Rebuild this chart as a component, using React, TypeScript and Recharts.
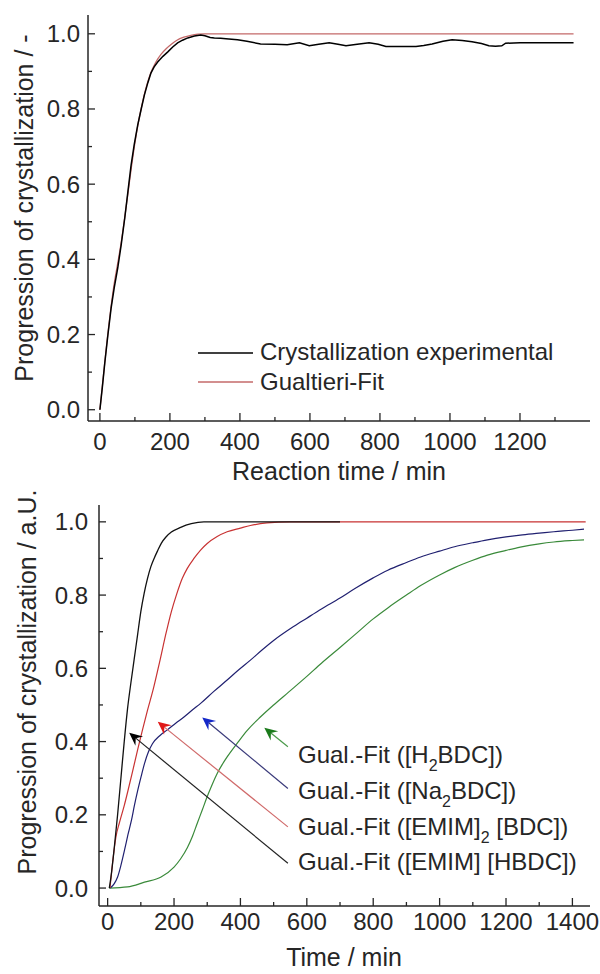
import React from "react";
import { Legend, Line, LineChart, ReferenceLine, XAxis, YAxis } from "recharts";

const FONT = "'Liberation Sans', Arial, sans-serif";
const INK = "#262626";

// tick positions
const topXMajor = [0, 200, 400, 600, 800, 1000, 1200];
const topXMinor = [100, 300, 500, 700, 900, 1100, 1300];
const bottomXMajor = [0, 200, 400, 600, 800, 1000, 1200, 1400];
const bottomXMinor = [100, 300, 500, 700, 900, 1100, 1300];
const yMajor = [0, 0.2, 0.4, 0.6, 0.8, 1.0];
const yMinor = [0.1, 0.3, 0.5, 0.7, 0.9];

// top panel: [reaction time (min), progression]
const experimental = [
  [0, 0], [7, 0.06], [14, 0.125], [23, 0.2], [32, 0.27], [41, 0.325], [51, 0.377], [61, 0.44],
  [71, 0.51], [80, 0.58], [89, 0.65], [98, 0.705], [108, 0.757], [118, 0.8], [127, 0.837],
  [137, 0.87], [146, 0.896], [155, 0.912], [165, 0.925], [180, 0.94], [194, 0.952], [208, 0.965],
  [222, 0.976], [236, 0.983], [251, 0.989], [270, 0.994], [288, 0.997], [300, 0.995], [315, 0.99],
  [327, 0.989], [345, 0.988], [360, 0.987], [393, 0.984], [420, 0.98], [459, 0.973], [500, 0.972],
  [535, 0.971], [570, 0.976], [598, 0.968], [625, 0.972], [655, 0.976], [680, 0.972], [703, 0.968],
  [735, 0.972], [769, 0.976], [795, 0.972], [817, 0.966], [860, 0.966], [903, 0.966], [925, 0.969],
  [949, 0.973], [980, 0.98], [1006, 0.984], [1035, 0.982], [1063, 0.979], [1090, 0.974],
  [1111, 0.968], [1130, 0.967], [1148, 0.968], [1159, 0.975], [1200, 0.976], [1300, 0.976],
  [1353, 0.976],
];
const gualtieriFit = [
  [0, 0], [10, 0.09], [20, 0.18], [30, 0.26], [40, 0.33], [50, 0.385], [60, 0.44], [70, 0.505],
  [80, 0.575], [90, 0.645], [100, 0.71], [110, 0.765], [120, 0.81], [130, 0.85], [140, 0.882],
  [150, 0.906], [160, 0.925], [175, 0.946], [190, 0.961], [205, 0.973], [220, 0.983], [240, 0.991],
  [260, 0.996], [280, 0.999], [300, 1.0], [700, 1.0], [1353, 1.0],
];

// bottom panel: [time (min), progression]
const fitEmimHbdc = [
  [5, 0], [10, 0.03], [20, 0.11], [30, 0.2], [40, 0.3], [50, 0.4], [60, 0.49], [70, 0.56],
  [80, 0.625], [90, 0.69], [100, 0.755], [110, 0.805], [120, 0.845], [130, 0.877], [140, 0.9],
  [150, 0.92], [162, 0.942], [175, 0.958], [192, 0.972], [220, 0.985], [252, 0.995], [290, 1.0],
  [400, 1.0], [550, 1.0], [700, 1.0],
];
const fitEmim2Bdc = [
  [7, 0], [15, 0.07], [25, 0.14], [36, 0.18], [50, 0.225], [61, 0.265], [75, 0.318], [91, 0.38],
  [105, 0.432], [120, 0.485], [138, 0.545], [156, 0.615], [177, 0.7], [192, 0.755], [207, 0.8],
  [225, 0.846], [240, 0.873], [260, 0.9], [280, 0.923], [300, 0.941], [330, 0.96], [360, 0.973],
  [400, 0.983], [430, 0.99], [480, 0.997], [550, 1.0], [700, 1.0], [1000, 1.0], [1440, 1.0],
];
const fitNa2Bdc = [
  [8, 0], [20, 0.012], [30, 0.03], [40, 0.062], [51, 0.104], [61, 0.145], [72, 0.186],
  [81, 0.227], [91, 0.268], [101, 0.305], [111, 0.34], [123, 0.372], [135, 0.394], [157, 0.416],
  [180, 0.432], [205, 0.45], [230, 0.467], [255, 0.486], [281, 0.505], [320, 0.537], [360, 0.568],
  [395, 0.596], [431, 0.623], [465, 0.65], [500, 0.676], [560, 0.714], [600, 0.737], [644, 0.762],
  [700, 0.792], [745, 0.818], [800, 0.847], [844, 0.868], [900, 0.889], [943, 0.904], [1000, 0.92],
  [1045, 0.932], [1100, 0.943], [1144, 0.951], [1200, 0.959], [1243, 0.964], [1300, 0.969],
  [1344, 0.973], [1400, 0.977], [1435, 0.98],
];
const fitH2Bdc = [
  [5, 0], [60, 0.003], [111, 0.016], [161, 0.03], [200, 0.057], [220, 0.08], [240, 0.11],
  [255, 0.14], [270, 0.177], [285, 0.213], [300, 0.25], [315, 0.283], [330, 0.313], [345, 0.337],
  [360, 0.358], [390, 0.395], [420, 0.43], [460, 0.467], [500, 0.5], [545, 0.535], [600, 0.578],
  [644, 0.614], [700, 0.657], [745, 0.692], [800, 0.735], [844, 0.765], [900, 0.8], [943, 0.826],
  [1000, 0.855], [1045, 0.875], [1100, 0.895], [1144, 0.909], [1200, 0.922], [1243, 0.931],
  [1300, 0.94], [1344, 0.945], [1400, 0.949], [1435, 0.951],
];

// annotation arrows, label end -> curve, in data units
const arrowTails = [[543, 0.386], [543, 0.272], [543, 0.167], [543, 0.0675]];
const arrowTips = [[472, 0.438], [285, 0.466], [151, 0.454], [65, 0.424]];
const arrowLine = ["#4a9a4a", "#3a3a7a", "#d06a6a", "#222222"];
const arrowHead = ["#1a7a1a", "#1428c8", "#e01818", "#000000"];

const toPoints = (pairs: number[][]) => pairs.map(([t, v]) => ({ t, v }));
const isIn = (list: number[], v: number) => list.some((m) => Math.abs(m - v) < 1e-9);

function xTick(major: number[], side: "bottom" | "top", labelOffset = 0) {
  return (p: any) => {
    const v = p.payload.value;
    const big = isIn(major, v);
    const len = big ? 8 : 4;
    const dir = side === "bottom" ? -1 : 1;
    return (
      <g>
        <line x1={p.x} x2={p.x} y1={p.y} y2={p.y + dir * len} stroke={INK} strokeWidth={1.3} />
        {side === "bottom" && big ? (
          <text x={p.x} y={p.y + labelOffset} textAnchor="middle" fontSize={24} fontFamily={FONT} fill={INK}>
            {v}
          </text>
        ) : null}
      </g>
    );
  };
}

function yTick(side: "left" | "right", gap = 0) {
  return (p: any) => {
    const v = p.payload.value;
    const big = isIn(yMajor, v);
    const len = big ? 7 : 4;
    const dir = side === "left" ? 1 : -1;
    return (
      <g>
        <line x1={p.x} x2={p.x + dir * len} y1={p.y} y2={p.y} stroke={INK} strokeWidth={1.3} />
        {side === "left" && big ? (
          <text x={p.x - gap} y={p.y + 8.5} textAnchor="end" fontSize={24} fontFamily={FONT} fill={INK}>
            {v.toFixed(1)}
          </text>
        ) : null}
      </g>
    );
  };
}

const xTitle = (text: string, cx: number, y: number) => () => (
  <text x={cx} y={y} textAnchor="middle" fontSize={25} fontFamily={FONT} fill={INK}>
    {text}
  </text>
);

const yTitle = (text: string, x: number, cy: number) => () => (
  <text x={x} y={cy} transform={`rotate(-90, ${x}, ${cy})`} textAnchor="middle" fontSize={25} fontFamily={FONT} fill={INK}>
    {text}
  </text>
);

function arrowShape(i: number) {
  return (p: any) => {
    const { x1, y1, x2, y2 } = p;
    if ([x1, y1, x2, y2].some((n) => typeof n !== "number")) return <g />;
    const a = Math.atan2(y2 - y1, x2 - x1);
    const ux = Math.cos(a);
    const uy = Math.sin(a);
    const L = 13;
    const W = 6;
    const bx = x2 - L * ux;
    const by = y2 - L * uy;
    const nx = x2 - 0.65 * L * ux;
    const ny = y2 - 0.65 * L * uy;
    const pts = `${x2},${y2} ${bx - W * uy},${by + W * ux} ${nx},${ny} ${bx + W * uy},${by - W * ux}`;
    return (
      <g>
        <line x1={x1} y1={y1} x2={nx} y2={ny} stroke={arrowLine[i]} strokeWidth={1.2} />
        <polygon points={pts} fill={arrowHead[i]} />
      </g>
    );
  };
}

const TopLegend = () => (
  <svg width={390} height={72} style={{ display: "block" }}>
    <line x1={8} x2={63} y1={23} y2={23} stroke="#000" strokeWidth={1.5} />
    <text x={70} y={30} fontSize={24} fontFamily={FONT} fill={INK}>Crystallization experimental</text>
    <line x1={8} x2={63} y1={52} y2={52} stroke="#c46a6a" strokeWidth={1.3} />
    <text x={70} y={60} fontSize={24} fontFamily={FONT} fill={INK}>Gualtieri-Fit</text>
  </svg>
);

const BottomLegend = () => (
  <svg width={305} height={140} style={{ display: "block" }}>
    <g fontSize={24} fontFamily={FONT} fill={INK}>
      <text x={8} y={23}>
        Gual.-Fit ([H<tspan dy={8} fontSize={16}>2</tspan>
        <tspan dy={-8}>BDC])</tspan>
      </text>
      <text x={8} y={59}>
        Gual.-Fit ([Na<tspan dy={8} fontSize={16}>2</tspan>
        <tspan dy={-8}>BDC])</tspan>
      </text>
      <text x={8} y={95}>
        Gual.-Fit ([EMIM]<tspan dy={8} fontSize={16}>2</tspan>
        <tspan dy={-8}> [BDC])</tspan>
      </text>
      <text x={8} y={130}>Gual.-Fit ([EMIM] [HBDC])</text>
    </g>
  </svg>
);

const axisLine = { stroke: INK, strokeWidth: 1.5 };

export default function App() {
  const topTicks = [...topXMajor, ...topXMinor].sort((a, b) => a - b);
  const bottomTicks = [...bottomXMajor, ...bottomXMinor].sort((a, b) => a - b);
  const yTicks = [...yMajor, ...yMinor].sort((a, b) => a - b);

  return (
    <div style={{ position: "absolute", left: 0, top: 0, width: 600, height: 974, background: "#fff" }}>
      <div style={{ position: "absolute", left: 0, top: 0 }}>
        <LineChart width={600} height={490} margin={{ top: 15, right: 10, left: 0, bottom: 7 }}>
          <XAxis
            xAxisId="b"
            dataKey="t"
            type="number"
            domain={[-34, 1400]}
            allowDataOverflow
            ticks={topTicks}
            interval={0}
            tickSize={0}
            tickMargin={0}
            tickLine={false}
            axisLine={axisLine}
            height={62}
            tick={xTick(topXMajor, "bottom", 29)}
            label={xTitle("Reaction time / min", 339, 480)}
          />
          <XAxis
            xAxisId="t"
            orientation="top"
            type="number"
            domain={[-34, 1400]}
            allowDataOverflow
            ticks={topTicks}
            interval={0}
            tickSize={0}
            tickMargin={0}
            tickLine={false}
            axisLine={axisLine}
            height={0}
            tick={xTick(topXMajor, "top")}
          />
          <YAxis
            yAxisId="l"
            type="number"
            domain={[-0.03, 1.05]}
            allowDataOverflow
            ticks={yTicks}
            interval={0}
            tickSize={0}
            tickMargin={0}
            tickLine={false}
            axisLine={axisLine}
            width={88}
            tick={yTick("left", 8)}
            label={yTitle("Progression of crystallization / -", 33, 208)}
          />
          <YAxis
            yAxisId="r"
            orientation="right"
            type="number"
            domain={[-0.03, 1.05]}
            allowDataOverflow
            ticks={yTicks}
            interval={0}
            tickSize={0}
            tickMargin={0}
            tickLine={false}
            axisLine={axisLine}
            width={0}
            tick={yTick("right")}
          />
          <Line
            xAxisId="b"
            yAxisId="l"
            data={toPoints(gualtieriFit)}
            dataKey="v"
            type="monotone"
            stroke="#c46a6a"
            strokeWidth={1.3}
            dot={false}
            activeDot={false}
            isAnimationActive={false}
          />
          <Line
            xAxisId="b"
            yAxisId="l"
            data={toPoints(experimental)}
            dataKey="v"
            type="linear"
            stroke="#000"
            strokeWidth={1.5}
            dot={false}
            activeDot={false}
            isAnimationActive={false}
          />
          <Legend
            layout="vertical"
            align="center"
            verticalAlign="middle"
            content={() => <TopLegend />}
            wrapperStyle={{ left: 190, top: 330, width: 390 }}
          />
        </LineChart>
      </div>

      <div style={{ position: "absolute", left: 0, top: 490 }}>
        <LineChart width={600} height={484} margin={{ top: 15, right: 10, left: 0, bottom: 2 }}>
          <XAxis
            xAxisId="b"
            dataKey="t"
            type="number"
            domain={[-26, 1453]}
            allowDataOverflow
            ticks={bottomTicks}
            interval={0}
            tickSize={0}
            tickMargin={0}
            tickLine={false}
            axisLine={axisLine}
            height={66}
            tick={xTick(bottomXMajor, "bottom", 24)}
            label={xTitle("Time / min", 344, 476)}
          />
          <XAxis
            xAxisId="t"
            orientation="top"
            type="number"
            domain={[-26, 1453]}
            allowDataOverflow
            ticks={bottomTicks}
            interval={0}
            tickSize={0}
            tickMargin={0}
            tickLine={false}
            axisLine={axisLine}
            height={0}
            tick={xTick(bottomXMajor, "top")}
          />
          <YAxis
            yAxisId="l"
            type="number"
            domain={[-0.049, 1.046]}
            allowDataOverflow
            ticks={yTicks}
            interval={0}
            tickSize={0}
            tickMargin={0}
            tickLine={false}
            axisLine={axisLine}
            width={99}
            tick={yTick("left", 11)}
            label={yTitle("Progression of crystallization / a.U.", 36, 192)}
          />
          <YAxis
            yAxisId="r"
            orientation="right"
            type="number"
            domain={[-0.049, 1.046]}
            allowDataOverflow
            ticks={yTicks}
            interval={0}
            tickSize={0}
            tickMargin={0}
            tickLine={false}
            axisLine={axisLine}
            width={0}
            tick={yTick("right")}
          />
          <Line xAxisId="b" yAxisId="l" data={toPoints(fitH2Bdc)} dataKey="v" type="monotone" stroke="#3a8a3a" strokeWidth={1.2} dot={false} activeDot={false} isAnimationActive={false} />
          <Line xAxisId="b" yAxisId="l" data={toPoints(fitNa2Bdc)} dataKey="v" type="monotone" stroke="#202070" strokeWidth={1.2} dot={false} activeDot={false} isAnimationActive={false} />
          <Line xAxisId="b" yAxisId="l" data={toPoints(fitEmim2Bdc)} dataKey="v" type="monotone" stroke="#c83232" strokeWidth={1.2} dot={false} activeDot={false} isAnimationActive={false} />
          <Line xAxisId="b" yAxisId="l" data={toPoints(fitEmimHbdc)} dataKey="v" type="monotone" stroke="#111" strokeWidth={1.3} dot={false} activeDot={false} isAnimationActive={false} />
          {arrowTails.map((tail, i) => (
            <ReferenceLine
              key={i}
              xAxisId="b"
              yAxisId="l"
              segment={[
                { x: tail[0], y: tail[1] },
                { x: arrowTips[i][0], y: arrowTips[i][1] },
              ]}
              shape={arrowShape(i)}
            />
          ))}
          <Legend
            layout="vertical"
            align="center"
            verticalAlign="middle"
            content={() => <BottomLegend />}
            wrapperStyle={{ left: 290, top: 250, width: 305 }}
          />
        </LineChart>
      </div>
    </div>
  );
}
